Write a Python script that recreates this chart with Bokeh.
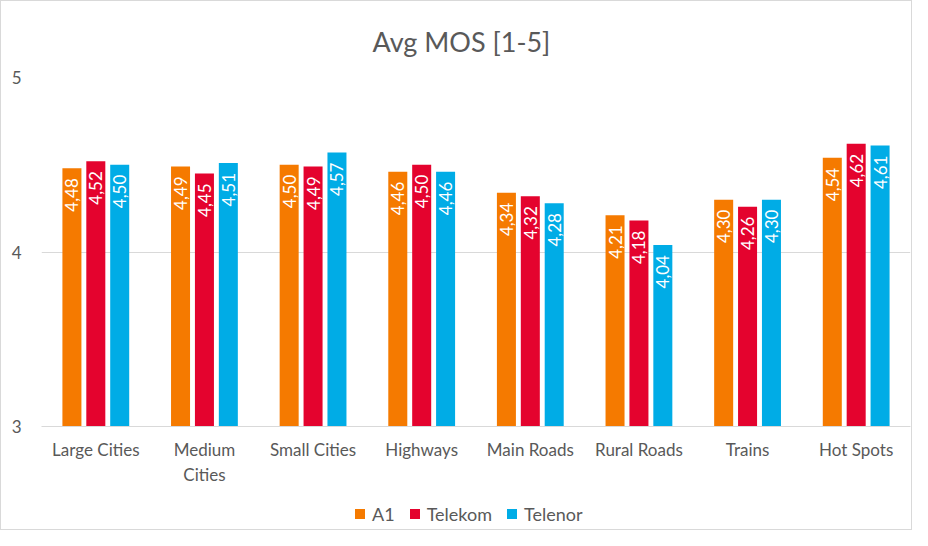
from bokeh.plotting import figure
from bokeh.embed import file_html
from bokeh.resources import INLINE
from bokeh.layouts import column
from bokeh.models import ColumnDataSource, FactorRange, Range1d, Legend, LegendItem, FixedTicker
from bokeh.transform import dodge
from bokeh.core.properties import value
import math

categories = ["Large Cities", "Medium\nCities", "Small Cities", "Highways",
              "Main Roads", "Rural Roads", "Trains", "Hot Spots"]
a1 = [4.48, 4.49, 4.50, 4.46, 4.34, 4.21, 4.30, 4.54]
telekom = [4.52, 4.45, 4.49, 4.50, 4.32, 4.18, 4.26, 4.62]
telenor = [4.50, 4.51, 4.57, 4.46, 4.28, 4.04, 4.30, 4.61]

series = [
    ("A1", a1, "#F57A00", -0.22),
    ("Telekom", telekom, "#E4032E", 0.0),
    ("Telenor", telenor, "#00ACE6", 0.22),
]

FONT = "Lato"
GREY = "#595959"

p = figure(
    width=910,
    height=486,
    x_range=FactorRange(*categories),
    y_range=Range1d(3, 5),
    output_backend="svg",
    toolbar_location=None,
    min_border_left=40,
    min_border_right=1,
    min_border_top=76,
    min_border_bottom=61,
)
p.outline_line_color = None

p.title.text = "Avg MOS [1-5]"
p.title.align = "left"
p.title.offset = 331
p.title.text_font = FONT
p.title.text_font_size = "27px"
p.title.text_font_style = "normal"
p.title.text_color = GREY
p.title.standoff = 40

# separate strip under the chart that only holds the legend;
# its y range is far away from the data so the swatch renderers draw nothing
lf = figure(
    width=910,
    height=42,
    x_range=p.x_range,
    y_range=Range1d(100, 101),
    output_backend="svg",
    toolbar_location=None,
    x_axis_type=None,
    y_axis_type=None,
    min_border=0,
)
lf.outline_line_color = None
lf.xgrid.grid_line_color = None
lf.ygrid.grid_line_color = None

items = []
for name, vals, color, off in series:
    src = ColumnDataSource(dict(
        cat=categories,
        top=vals,
        label=[f"{v:.2f}".replace(".", ",") for v in vals],
    ))
    p.vbar(x=dodge("cat", off, range=p.x_range), top="top", bottom=3,
           width=0.175, source=src, fill_color=color, line_color=None)
    p.text(x=dodge("cat", off, range=p.x_range), y="top", text="label", source=src,
           angle=math.pi / 2, text_align="right", text_baseline="middle",
           x_offset=0, y_offset=10, text_color="white",
           text_font=value(FONT), text_font_size="17px")
    r = lf.scatter(x=dodge("cat", off, range=lf.x_range), y="top", source=src,
                   marker="square", size=10, fill_color=color, line_color=None)
    items.append(LegendItem(label=name, renderers=[r]))

# marker swatches are drawn at 0.4 of the glyph box, so 25px -> 10px squares
legend = Legend(items=items, orientation="horizontal", location=(306, 3),
                glyph_width=25, glyph_height=25, label_text_font=FONT,
                label_text_font_size="18px", label_text_color=GREY,
                border_line_color=None, background_fill_alpha=0,
                spacing=7, label_standoff=0, margin=0, padding=0)
lf.add_layout(legend, "center")

p.xgrid.grid_line_color = None
p.ygrid.grid_line_color = "#D9D9D9"
p.ygrid.grid_line_width = 1
p.yaxis.ticker = FixedTicker(ticks=[3, 4, 5])

p.yaxis.axis_line_color = None
p.yaxis.major_tick_line_color = None
p.yaxis.minor_tick_line_color = None
p.yaxis.major_label_text_font = FONT
p.yaxis.major_label_text_font_size = "17px"
p.yaxis.major_label_text_color = GREY
p.yaxis.major_label_standoff = 14

p.xaxis.axis_line_color = "#D9D9D9"
p.xaxis.major_tick_line_color = None
p.xaxis.minor_tick_line_color = None
p.xaxis.major_label_text_font = FONT
p.xaxis.major_label_text_font_size = "17px"
p.xaxis.major_label_text_color = GREY
p.xaxis.major_label_standoff = 6

page = column(p, lf, spacing=0, styles={"border": "1px solid #D9D9D9"})

open("out.html", "w").write(file_html(page, INLINE))
